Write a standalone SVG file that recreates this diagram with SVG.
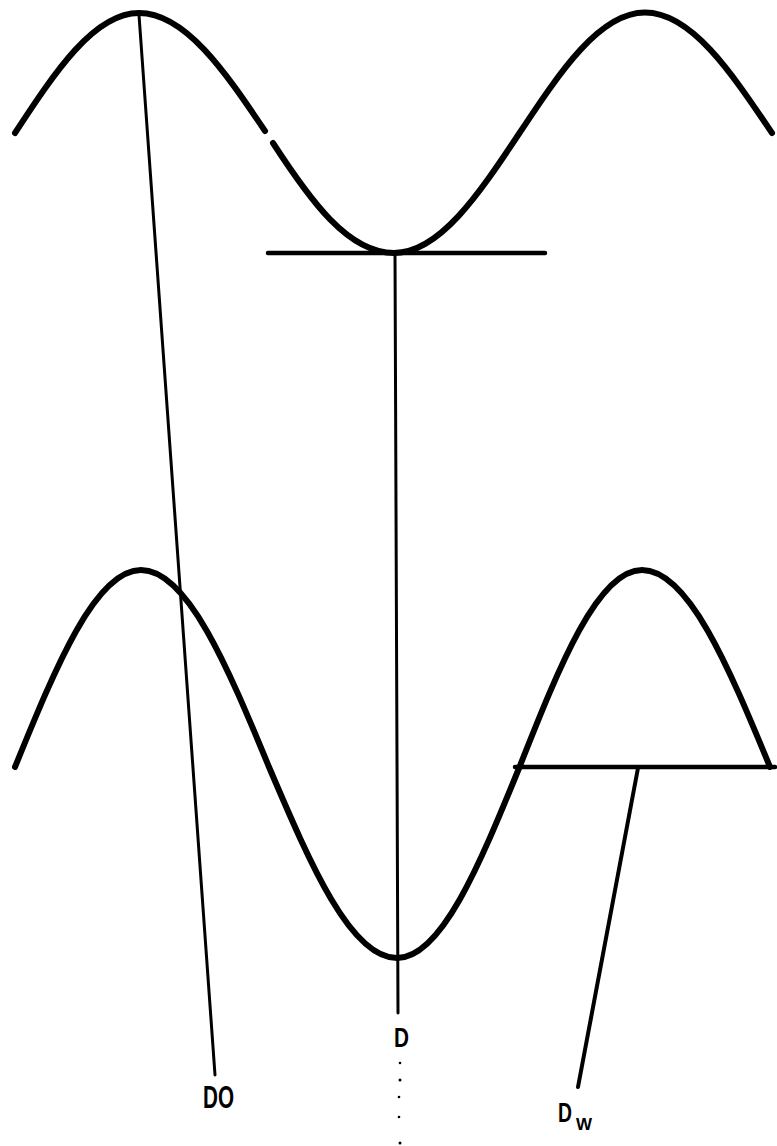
<svg xmlns="http://www.w3.org/2000/svg" width="777" height="1146" viewBox="0 0 777 1146">
<style>
.curve{fill:none;stroke:#000;stroke-width:6;stroke-linecap:round;stroke-linejoin:round}
.hline{fill:none;stroke:#000;stroke-width:4.5;stroke-linecap:round}
.thin{fill:none;stroke:#000;stroke-width:3;stroke-linecap:round}
.med{fill:none;stroke:#000;stroke-width:4;stroke-linecap:round}
.lbl{font-family:"Liberation Sans",Arial,sans-serif;font-weight:bold;fill:#000}
.dot{fill:#000}
</style>
<rect width="777" height="1146" fill="#fff"/>
<g id="top-wave">
<path class="curve" d="M15,133 C55.4,71.3 94.1,13 139,13 C185.1,13 224.9,71.3 265,131"/>
<path class="curve" d="M273,143 C310,200 347.9,253 394,253 C439.4,253 478.6,194.7 519.5,133 C560.4,71.3 599.6,12.5 645,12.5 C691,12.5 730.6,71.3 772,133"/>
</g>
<g id="bottom-wave">
<path class="curve" d="M15,767 C56.1,666.1 95.4,570 141,570 C187.3,570 227.3,666.1 269,767 C310.7,864.9 350.7,958 397,958 C441.3,958 479.6,864.9 519.5,767 C559.4,666.1 597.7,570 642,570 C688.3,570 728.3,666.1 770,767"/>
</g>
<g id="connectors">
<line class="hline" x1="268" y1="253" x2="545" y2="253"/>
<line class="hline" x1="515" y1="767" x2="775" y2="767"/>
<line class="thin" x1="139" y1="15" x2="215" y2="1075"/>
<line class="thin" x1="395" y1="253" x2="398" y2="1013"/>
<line class="med" x1="638" y1="768" x2="578" y2="1087"/>
<circle class="dot" cx="400" cy="1063" r="1.3"/>
<circle class="dot" cx="400" cy="1080" r="1.5"/>
<circle class="dot" cx="399" cy="1097" r="1.3"/>
<circle class="dot" cx="399" cy="1117" r="1.3"/>
<circle class="dot" cx="400" cy="1143" r="1.5"/>
</g>
<g id="label-DO"><text class="lbl" x="203" y="1108" font-size="31" textLength="31" lengthAdjust="spacingAndGlyphs">DO</text></g>
<g id="label-D"><text class="lbl" x="394" y="1047" font-size="28" textLength="15" lengthAdjust="spacingAndGlyphs">D</text></g>
<g id="label-DW"><text class="lbl" x="558" y="1122" font-size="28" textLength="14" lengthAdjust="spacingAndGlyphs">D</text><text class="lbl" x="576" y="1130" font-size="17" textLength="16" lengthAdjust="spacingAndGlyphs">W</text></g>
</svg>
